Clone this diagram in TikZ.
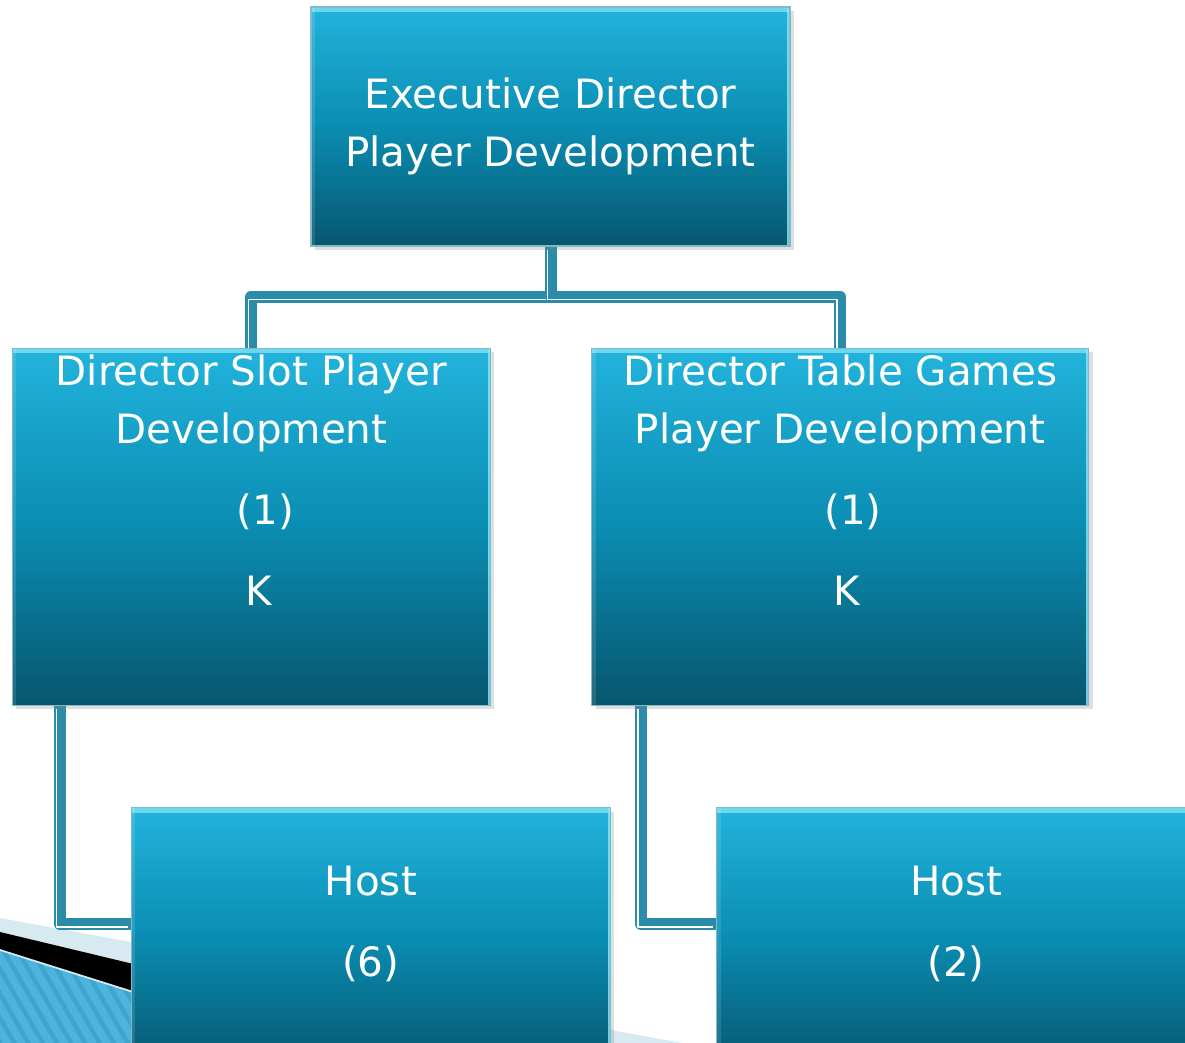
\documentclass[tikz,border=0pt]{standalone}
\usepackage{fontspec}
\setmainfont{DejaVu Sans}
\usetikzlibrary{
  positioning,
  shadows,
  backgrounds,
  patterns.meta
}
\definecolor{pdTop}{HTML}{22B3DC}
\definecolor{pdMid}{HTML}{0A8DB2}
\definecolor{pdBot}{HTML}{08566E}
\definecolor{pdEdge}{HTML}{7FB9CA}
\definecolor{pdGlow}{HTML}{8AE8F8}
\definecolor{pdLine}{HTML}{2A8CA8}
\definecolor{pdPale}{HTML}{D7E9F1}
\definecolor{pdWave}{HTML}{4DB5DC}
\definecolor{pdStripe}{HTML}{3DA5CE}
\tikzset{
  orgbox/.style={
    draw=pdEdge, line width=0.8pt, inner sep=0pt,
    top color=pdTop, bottom color=pdBot, middle color=pdMid,
    drop shadow={shadow xshift=0.08cm, shadow yshift=-0.08cm, opacity=0.25, fill=black!50},
    path picture={
      \fill[pdGlow, opacity=0.7] (path picture bounding box.north west)
        rectangle ([yshift=-0.1cm]path picture bounding box.north east);
      \fill[pdGlow, opacity=0.8] ([xshift=-0.05cm]path picture bounding box.north east)
        rectangle (path picture bounding box.south east);
      \fill[white, opacity=0.12] (path picture bounding box.north west)
        rectangle ([xshift=0.08cm]path picture bounding box.south west);
    }
  },
  orgtext/.style={font=\fontsize{23}{33}\selectfont, text=white, align=center, inner sep=0pt},
  conn/.style={
    draw=pdLine, line width=0.24cm, line join=round,
    postaction={draw=white, line width=0.9pt, transform canvas={shift={(-0.06cm,-0.06cm)}}}
  }
}

\begin{document}
\begin{tikzpicture}[x=0.02cm, y=-0.02cm]
  \clip (0,0) rectangle (1185,1043);
  % boxes
  \node[orgbox, orgtext, minimum width=9.58cm, minimum height=4.78cm] (exec) at (550.5,126.5)
    {Executive Director\\Player Development};
  \node[orgbox, minimum width=9.56cm, minimum height=7.14cm, below left=2.02cm and 1.19cm of exec.south] (slot) {};
  \node[orgbox, minimum width=9.94cm, minimum height=7.14cm, below right=2.02cm and 0.81cm of exec.south] (tabdir) {};
  \node[orgbox, minimum width=9.58cm, minimum height=5.2cm, below right=2.02cm and 2.38cm of slot.south west] (slothost) {};
  \node[orgbox, minimum width=9.58cm, minimum height=5.2cm, below right=2.02cm and 2.5cm of tabdir.south west] (tabhost) {};
  % box texts
  \node[orgtext, below=0.14cm of slot.north] (slottxt)
    {Director Slot Player\\Development\\[13pt]\hspace*{0.56cm}(1)\\[13pt]\hspace*{0.28cm}K};
  \node[orgtext, below=0.14cm of tabdir.north] (tabtxt)
    {Director Table Games\\Player Development\\[13pt]\hspace*{0.52cm}(1)\\[13pt]\hspace*{0.26cm}K};
  \node[orgtext, below=1.18cm of slothost.north] (slothosttxt) {Host\\[13pt](6)};
  \node[orgtext, below=1.18cm of tabhost.north] (tabhosttxt) {Host\\[13pt](2)};
  % backdrop and connectors
  \begin{scope}[on background layer]
    \fill[pdPale] (0,918) -- (682,1043) -- (0,1043) -- cycle;
    \fill[black] (0,932) -- (463,1043) -- (0,1043) -- cycle;
    \fill[pdWave] (0,950) -- (295,1043) -- (0,1043) -- cycle;
    \fill[pattern={Lines[angle=120, distance=7pt, line width=2.5pt]}, pattern color=pdStripe]
      (0,950) -- (295,1043) -- (0,1043) -- cycle;
    \draw[pdPale, line width=1pt] (0,950) -- (295,1043);
    \draw[conn] (exec.south) -- ++(0,50) -| (slot.north);
    \draw[conn] (exec.south) -- ++(0,50) -| (tabdir.north);
    \draw[conn] ([xshift=0.96cm]slot.south west) |- ([yshift=-2.34cm]slothost.north west);
    \draw[conn] ([xshift=1.0cm]tabdir.south west) |- ([yshift=-2.34cm]tabhost.north west);
  \end{scope}
\end{tikzpicture}
\end{document}
